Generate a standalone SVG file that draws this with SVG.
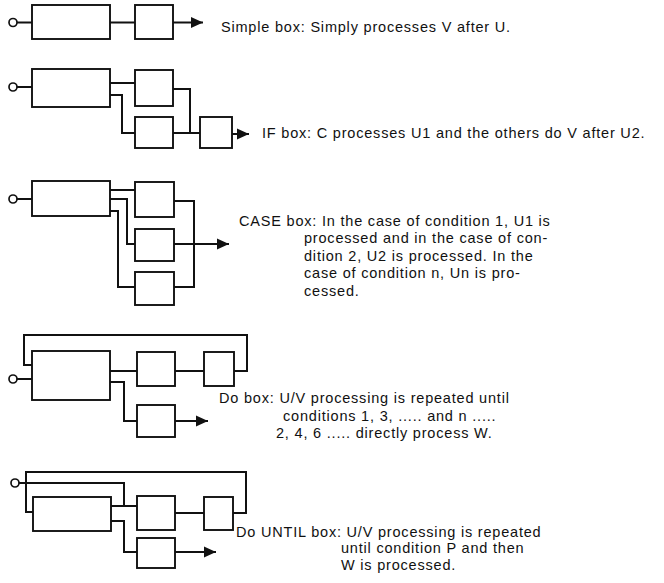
<svg xmlns="http://www.w3.org/2000/svg" width="664" height="583" viewBox="0 0 664 583">
<style>
.b{fill:#fff;stroke:#111;stroke-width:1.9}
.c{fill:none;stroke:#111;stroke-width:2}
.o{fill:#fff;stroke:#111;stroke-width:1.7}
.t{font-family:"Liberation Sans",Arial,sans-serif;font-size:14.5px;fill:#111;letter-spacing:0.8px}
</style>
<defs>
<marker id="ah" markerUnits="userSpaceOnUse" markerWidth="13" markerHeight="12" refX="12" refY="6" orient="auto"><path d="M0,0.5 L12,6 L0,11.5z" fill="#111"/></marker>
</defs>
<rect width="664" height="583" fill="#fff"/>
<g id="connectors">
<path class="c" d="M17,22.5 H32 M110,22.5 H135"/>
<path class="c" d="M173,22.5 H203" marker-end="url(#ah)"/>
<path class="c" d="M17,87 H32 M110,83 H135 M110,95 H122 V133 H135 M173,89 H190 V133 M173,133 H200"/>
<path class="c" d="M232,134 H249" marker-end="url(#ah)"/>
<path class="c" d="M17,199 H32 M110,190 H135 M110,199 H127 V244 H135 M110,211 H118 V287 H135 M174,201 H194 V287 H174"/>
<path class="c" d="M174,244 H229" marker-end="url(#ah)"/>
<path class="c" d="M32,365 H24 V335 H247 V371 H234 M17,379 H32 M110,371 H137 M175,371 H204 M110,382 H124 V421 H137"/>
<path class="c" d="M175,421 H208" marker-end="url(#ah)"/>
<path class="c" d="M19,483 H124 V506 M111,506 H137 M33,512 H26 V472 H246 V513 H233 M175,513 H204 M111,521 H124 V552 H137"/>
<path class="c" d="M175,552 H216" marker-end="url(#ah)"/>
</g>
<g id="simple">
<circle id="s-in" class="o" cx="13" cy="22.5" r="4"/>
<g id="s-u"><rect class="b" x="32" y="5" width="78" height="34"/></g>
<g id="s-v"><rect class="b" x="135" y="5" width="38" height="34"/></g>
<text class="t" x="221" y="32">Simple box: Simply processes V after U.</text>
</g>
<g id="if">
<circle id="i-in" class="o" cx="13" cy="87" r="4"/>
<g id="i-c"><rect class="b" x="32" y="69" width="78" height="38"/></g>
<g id="i-u1"><rect class="b" x="135" y="70" width="38" height="36"/></g>
<g id="i-u2"><rect class="b" x="135" y="117" width="38" height="31"/></g>
<g id="i-v"><rect class="b" x="200" y="117" width="32" height="31"/></g>
<text class="t" x="262" y="138">IF box: C processes U1 and the others do V after U2.</text>
</g>
<g id="case">
<circle id="c-in" class="o" cx="13" cy="199" r="4"/>
<g id="c-c"><rect class="b" x="32" y="181" width="78" height="35"/></g>
<g id="c-u1"><rect class="b" x="135" y="182" width="39" height="35"/></g>
<g id="c-u2"><rect class="b" x="135" y="229" width="39" height="32"/></g>
<g id="c-un"><rect class="b" x="135" y="272" width="39" height="33"/></g>
<text class="t" x="239" y="226">CASE box: In the case of condition 1, U1 is</text>
<text class="t" x="304" y="243">processed and in the case of con-</text>
<text class="t" x="304" y="261">dition 2, U2 is processed. In the</text>
<text class="t" x="304" y="278">case of condition n, Un is pro-</text>
<text class="t" x="304" y="296">cessed.</text>
</g>
<g id="do">
<circle id="d-in" class="o" cx="13" cy="379" r="4"/>
<g id="d-c"><rect class="b" x="32" y="351" width="78" height="49"/></g>
<g id="d-u"><rect class="b" x="137" y="352" width="38" height="34"/></g>
<g id="d-v"><rect class="b" x="204" y="352" width="30" height="34"/></g>
<g id="d-w"><rect class="b" x="137" y="405" width="38" height="32"/></g>
<text class="t" x="219" y="403">Do box: U/V processing is repeated until</text>
<text class="t" x="283" y="421">conditions 1, 3, ..... and n .....</text>
<text class="t" x="276" y="438">2, 4, 6 ..... directly process W.</text>
</g>
<g id="dountil">
<circle id="u-in" class="o" cx="15" cy="483" r="4"/>
<g id="u-c"><rect class="b" x="33" y="497" width="78" height="34"/></g>
<g id="u-u"><rect class="b" x="137" y="496" width="38" height="34"/></g>
<g id="u-v"><rect class="b" x="204" y="497" width="29" height="33"/></g>
<g id="u-w"><rect class="b" x="137" y="538" width="38" height="30"/></g>
<text class="t" x="236" y="537">Do UNTIL box: U/V processing is repeated</text>
<text class="t" x="341" y="553">until condition P and then</text>
<text class="t" x="341" y="570">W is processed.</text>
</g>
</svg>
